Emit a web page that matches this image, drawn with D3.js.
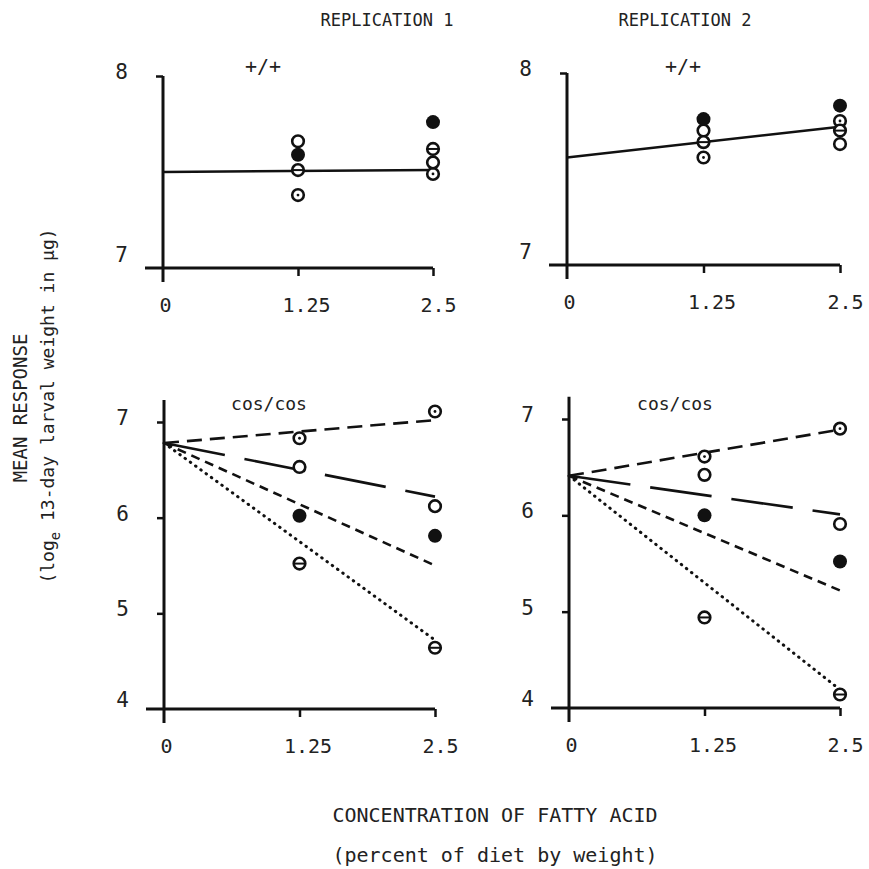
<!DOCTYPE html>
<html>
<head>
<meta charset="utf-8">
<script src="https://cdn.jsdelivr.net/npm/d3@7"></script>
<style>
  body { margin: 0; background: #fff; }
  text { font-family: "DejaVu Sans Mono", monospace; fill: #222; }
</style>
</head>
<body>
<div id="chart"></div>
<script>
// concentrations (percent of diet by weight)
const concentrations = [0, 1.25, 2.5];
const doses = [1.25, 2.5];
const markerTypes = ["dotted", "open", "filled", "barred"];

// mean responses at 1.25 and 2.5, one pair per marker type
const rep1WildPoints = [[7.38, 7.49], [7.66, 7.55], [7.59, 7.76], [7.51, 7.62]];
const rep2WildPoints = [[7.56, 7.75], [7.70, 7.63], [7.76, 7.83], [7.64, 7.70]];
const rep1CosPoints = [[6.83, 7.11], [6.53, 6.12], [6.02, 5.81], [5.52, 4.64]];
const rep2CosPoints = [[6.61, 6.90], [6.42, 5.91], [6.00, 5.52], [4.94, 4.14]];

// fitted lines, value at 0 and at 2.5
const rep1WildLine = [7.50, 7.51];
const rep2WildLine = [7.56, 7.72];
const rep1CosLines = [[6.78, 7.02], [6.78, 6.22], [6.78, 5.50], [6.78, 4.72]];
const rep2CosLines = [[6.41, 6.89], [6.41, 6.01], [6.41, 5.22], [6.41, 4.19]];

const wildTicks = [7, 8];
const cosTicks = [4, 5, 6, 7];

const svgWidth = 869, svgHeight = 869;
const svg = d3.select("#chart").append("svg")
  .attr("width", svgWidth)
  .attr("height", svgHeight);

// line style for each marker type
const dashes = {dotted: "15,8", open: "62,20", filled: "9,6", barred: "0.5,6"};

const panels = [
  {points: rep1WildPoints, lines: [rep1WildLine], solid: true, ticks: wildTicks, baseDy: "-0.3em",
   xr: [163, 433], yr: [268, 76], top: 8, label: "+/+", lx: 263, ly: 73},
  {points: rep2WildPoints, lines: [rep2WildLine], solid: true, ticks: wildTicks, baseDy: "-0.3em",
   xr: [567, 840], yr: [265, 73], top: 8, label: "+/+", lx: 683, ly: 73},
  {points: rep1CosPoints, lines: rep1CosLines, solid: false, ticks: cosTicks, baseDy: "-0.12em",
   xr: [164, 435], yr: [709, 422], top: 7.23, label: "cos/cos", lx: 269, ly: 410},
  {points: rep2CosPoints, lines: rep2CosLines, solid: false, ticks: cosTicks, baseDy: "-0.12em",
   xr: [569, 840], yr: [708, 419], top: 7.23, label: "cos/cos", lx: 675, ly: 410}
];

panels.forEach(p => {
  const xScale = d3.scaleLinear().domain([0, 2.5]).range(p.xr);
  const yScale = d3.scaleLinear().domain([p.ticks[0], p.ticks[p.ticks.length - 1]]).range(p.yr);
  const g = svg.append("g");
  const x0 = xScale(0), yBase = yScale(p.ticks[0]);

  // axes lines
  g.append("line")
    .attr("x1", x0).attr("x2", x0)
    .attr("y1", yScale(p.top)).attr("y2", yBase + 14)
    .attr("stroke", "#111").attr("stroke-width", 3);
  g.append("line")
    .attr("x1", x0 - 18).attr("x2", xScale(2.5))
    .attr("y1", yBase).attr("y2", yBase)
    .attr("stroke", "#111").attr("stroke-width", 3);

  // y ticks + labels
  const yAxis = d3.axisLeft(yScale)
    .tickValues(p.ticks)
    .tickSize(7)
    .tickPadding(28)
    .tickFormat(d3.format("d"));
  const ya = g.append("g")
    .attr("transform", `translate(${x0},0)`)
    .call(yAxis);
  ya.select(".domain").remove();
  ya.selectAll(".tick line")
    .attr("stroke", "#111").attr("stroke-width", 2.5)
    .attr("x2", d => d === p.ticks[0] ? 0 : -7);
  ya.selectAll(".tick text")
    .attr("font-size", 21)
    .attr("dy", d => d === p.ticks[0] ? p.baseDy : "0.12em");

  // x ticks + labels
  const xAxis = d3.axisBottom(xScale)
    .tickValues(concentrations)
    .tickSize(8)
    .tickPadding(22)
    .tickFormat(d => d === 0 ? "0" : String(d));
  const xa = g.append("g")
    .attr("transform", `translate(0,${yBase})`)
    .call(xAxis);
  xa.select(".domain").remove();
  xa.selectAll(".tick line")
    .attr("stroke", "#111").attr("stroke-width", 2.5)
    .attr("y2", d => d === 0 ? 0 : 8);
  xa.selectAll(".tick text")
    .attr("font-size", 20)
    .attr("transform", d => `translate(${d === 1.25 ? 8 : d === 2.5 ? 5 : 2},0)`);

  // fitted lines
  p.lines.forEach((ln, i) => {
    g.append("line")
      .attr("x1", xScale(0)).attr("y1", yScale(ln[0]))
      .attr("x2", xScale(2.5)).attr("y2", yScale(ln[1]))
      .attr("stroke", "#111")
      .attr("stroke-width", p.solid ? 2.5 : (markerTypes[i] === "barred" ? 3 : 2.6))
      .attr("stroke-linecap", markerTypes[i] === "barred" && !p.solid ? "round" : "butt")
      .attr("stroke-dasharray", p.solid ? null : dashes[markerTypes[i]]);
  });

  // markers
  p.points.forEach((vals, i) => {
    const type = markerTypes[i];
    vals.forEach((v, j) => {
      const cx = xScale(doses[j]), cy = yScale(v);
      const m = g.append("g").attr("transform", `translate(${cx},${cy})`);
      if (type === "filled") {
        m.append("circle").attr("r", 7).attr("fill", "#111");
      } else {
        m.append("circle").attr("r", 5.8)
          .attr("fill", "#fff").attr("stroke", "#111").attr("stroke-width", 2.6);
        if (type === "dotted") m.append("circle").attr("r", 1.4).attr("fill", "#111");
        if (type === "barred") m.append("line")
          .attr("x1", -5.5).attr("x2", 5.5)
          .attr("stroke", "#111").attr("stroke-width", 2);
      }
    });
  });

  g.append("text")
    .attr("x", p.lx).attr("y", p.ly)
    .attr("text-anchor", "middle")
    .attr("font-size", p.label === "+/+" ? 20 : 18)
    .text(p.label);
});

// titles
svg.append("text").attr("x", 387).attr("y", 26)
  .attr("text-anchor", "middle").attr("font-size", 17).text("REPLICATION 1");
svg.append("text").attr("x", 685).attr("y", 26)
  .attr("text-anchor", "middle").attr("font-size", 17).text("REPLICATION 2");

// y label
svg.append("text")
  .attr("transform", "translate(27,408) rotate(-90)")
  .attr("text-anchor", "middle").attr("font-size", 19)
  .text("MEAN RESPONSE");
const yl = svg.append("text")
  .attr("transform", "translate(54,406) rotate(-90)")
  .attr("text-anchor", "middle").attr("font-size", 18);
yl.append("tspan").text("(log");
yl.append("tspan").attr("dy", 6).attr("font-size", 14).text("e");
yl.append("tspan").attr("dy", -6).text(" 13-day larval weight in \u03bcg)");

// x label
svg.append("text").attr("x", 495).attr("y", 822)
  .attr("text-anchor", "middle").attr("font-size", 20)
  .text("CONCENTRATION OF FATTY ACID");
svg.append("text").attr("x", 495).attr("y", 862)
  .attr("text-anchor", "middle").attr("font-size", 20)
  .text("(percent of diet by weight)");
</script>
</body>
</html>
